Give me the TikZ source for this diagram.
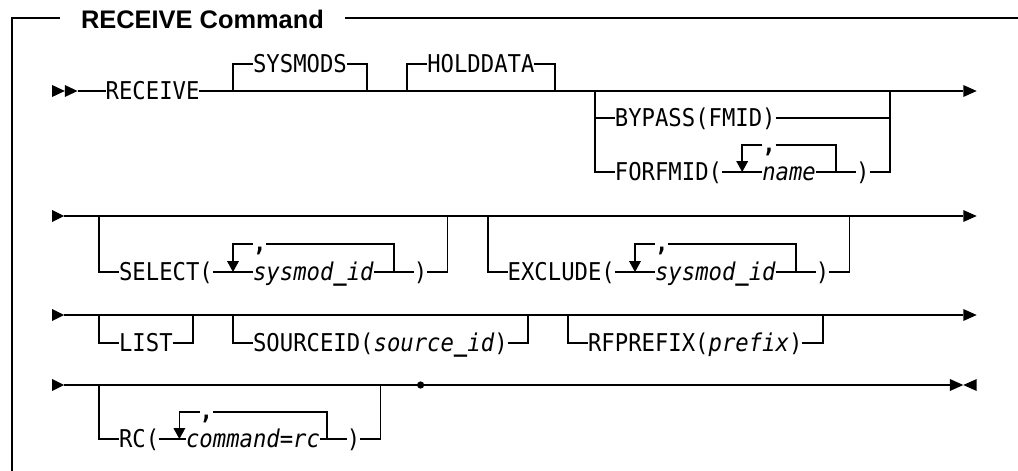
\documentclass[tikz,border=0pt]{standalone}
\usepackage{fontspec}
\newfontfamily\railfont[FakeStretch=0.908]{DejaVu Sans Mono}
\newfontfamily\titlefont{Liberation Sans}
% heavier underscore inside variable names
\newcommand\usc{{\bfseries\_}}
\begin{document}
\begin{tikzpicture}[
  rail/.style={line width=1.8pt, line cap=butt, line join=miter},
  frame/.style={line width=1.6pt},
  tip/.style={fill=black},
  lbl/.style={inner sep=0pt, outer sep=0pt, anchor=west, text height=17.8pt, text depth=0pt,
    font=\railfont\fontsize{24.5}{28}\selectfont},
  var/.style={lbl, font=\railfont\itshape\fontsize{24.5}{28}\selectfont},
  sep/.style={inner sep=0pt, outer sep=0pt, anchor=west, text height=14pt, text depth=0pt,
    font=\railfont\bfseries\fontsize{24.5}{28}\selectfont},
]
\useasboundingbox (0pt,0pt) rectangle (1018pt,-471pt);

% ---- frame and heading ----
\begin{scope}[x=1pt, y=-1pt]
  \coordinate (ftl) at (12,18);
  \coordinate (ftr) at (1018,18);
  \coordinate (fbl) at (12,471);
  \node[font=\titlefont\bfseries\fontsize{25.4}{30}\selectfont, inner xsep=21pt, inner ysep=0pt,
        text height=18.2pt, text depth=0pt] (title) at (202.5,19.5) {RECEIVE Command};
  \draw[frame] (title.west |- ftl) -- (ftl) -- (fbl);
  \draw[frame] (title.east |- ftl) -- (ftr);
\end{scope}

% ---- syntax rails: x in character cells, y in points downwards ----
\begin{scope}[xshift=52.1pt, x=13.4pt, y=-1pt]

% row 1
\fill[tip] (0,85) -- (0.95,91) -- (0,97) -- cycle;
\fill[tip] (0.95,85) -- (1.9,91) -- (0.95,97) -- cycle;
\coordinate (r1in) at (1.9,91);
\coordinate (r1out) at (68,91);
\node[lbl] (receive) at (4,91) {RECEIVE};
\draw[rail] (r1in) -- (receive.west);
\draw[rail] (receive.east) -- (r1out);
\fill[tip] (68,85) -- (69,91) -- (68,97) -- cycle;

\node[lbl] (sysmods) at (15,64) {SYSMODS};
\draw[rail] (13.5,91) |- (sysmods.west);
\draw[rail] (sysmods.east) -| (23.5,91);

\node[lbl] (holddata) at (28,64) {HOLDDATA};
\draw[rail] (26.5,91) |- (holddata.west);
\draw[rail] (holddata.east) -| (37.5,91);

\node[lbl] (bypass) at (42,118) {BYPASS(FMID)};
\node[lbl] (forfmid) at (42,172) {FORFMID(};
\node[var] (name) at (53,172) {name};
\node[sep] (c1) at (53,145) {,};
\node[lbl] (rp1) at (60,172) {)};
\draw[rail] (40.5,91) |- (forfmid.west);
\draw[rail] (40.5,118) -- (bypass.west);
\draw[rail] (bypass.east) -- (62.5,118);
\draw[rail] (forfmid.east) -- (name.west);
\draw[rail] (c1.west) -- (51.5,145) -- (51.5,162);
\fill[tip] (51.05,161) -- (51.95,161) -- (51.5,172) -- cycle;
\draw[rail] (c1.east) -| (58.5,172);
\draw[rail] (name.east) -- (rp1.west);
\draw[rail] (rp1.east) -| (62.5,91);

% row 2
\fill[tip] (0,210) -- (0.9,216) -- (0,222) -- cycle;
\coordinate (r2in) at (0.9,216);
\coordinate (r2out) at (68,216);
\draw[rail] (r2in) -- (r2out);
\fill[tip] (68,210) -- (69,216) -- (68,222) -- cycle;

\node[lbl] (select) at (5,272) {SELECT(};
\node[var] (smid1) at (15,272) {sysmod\usc id};
\node[sep] (c2) at (15,244) {,};
\node[lbl] (rp2) at (27,272) {)};
\draw[rail] (3.5,216) |- (select.west);
\draw[rail] (select.east) -- (smid1.west);
\draw[rail] (c2.west) -- (13.5,244) -- (13.5,262);
\fill[tip] (13.05,261) -- (13.95,261) -- (13.5,272) -- cycle;
\draw[rail] (c2.east) -| (25.5,272);
\draw[rail] (smid1.east) -- (rp2.west);
\draw[rail] (rp2.east) -| (29.5,216);

\node[lbl] (exclude) at (34,272) {EXCLUDE(};
\node[var] (smid2) at (45,272) {sysmod\usc id};
\node[sep] (c3) at (45,244) {,};
\node[lbl] (rp3) at (57,272) {)};
\draw[rail] (32.5,216) |- (exclude.west);
\draw[rail] (exclude.east) -- (smid2.west);
\draw[rail] (c3.west) -- (43.5,244) -- (43.5,262);
\fill[tip] (43.05,261) -- (43.95,261) -- (43.5,272) -- cycle;
\draw[rail] (c3.east) -| (55.5,272);
\draw[rail] (smid2.east) -- (rp3.west);
\draw[rail] (rp3.east) -| (59.5,216);

% row 3
\fill[tip] (0,309) -- (0.9,315) -- (0,321) -- cycle;
\coordinate (r3in) at (0.9,315);
\coordinate (r3out) at (68,315);
\draw[rail] (r3in) -- (r3out);
\fill[tip] (68,309) -- (69,315) -- (68,321) -- cycle;

\node[lbl] (list) at (5,343) {LIST};
\draw[rail] (3.5,315) |- (list.west);
\draw[rail] (list.east) -| (10.5,315);

\node[lbl] (srcid) at (15,343) {SOURCEID(\textit{source\usc id})};
\draw[rail] (13.5,315) |- (srcid.west);
\draw[rail] (srcid.east) -| (35.5,315);

\node[lbl] (rfpre) at (40,343) {RFPREFIX(\textit{prefix})};
\draw[rail] (38.5,315) |- (rfpre.west);
\draw[rail] (rfpre.east) -| (57.5,315);

% row 4
\fill[tip] (0,379) -- (0.9,385) -- (0,391) -- cycle;
\coordinate (r4in) at (0.9,385);
\coordinate (r4out) at (67,385);
\draw[rail] (r4in) -- (r4out);
\fill[tip] (67,379) -- (68,385) -- (67,391) -- cycle;
\fill[tip] (69,379) -- (68,385) -- (69,391) -- cycle;

\node[lbl] (rc) at (5,439) {RC(};
\node[var] (cmdrc) at (10,439) {command=rc};
\node[sep] (c4) at (11,412) {,};
\node[lbl] (rp4) at (22,439) {)};
\draw[rail] (3.5,385) |- (rc.west);
\draw[rail] (rc.east) -- (cmdrc.west);
\draw[rail] (c4.west) -- (9.5,412) -- (9.5,429);
\fill[tip] (9.05,428) -- (9.95,428) -- (9.5,439) -- cycle;
\draw[rail] (c4.east) -| (20.5,439);
\draw[rail] (cmdrc.east) -- (rp4.west);
\draw[rail] (rp4.east) -| (24.5,385);
\coordinate (dot) at (27.5,385);
\fill (dot) circle (3.6pt);

\end{scope}
\end{tikzpicture}
\end{document}
